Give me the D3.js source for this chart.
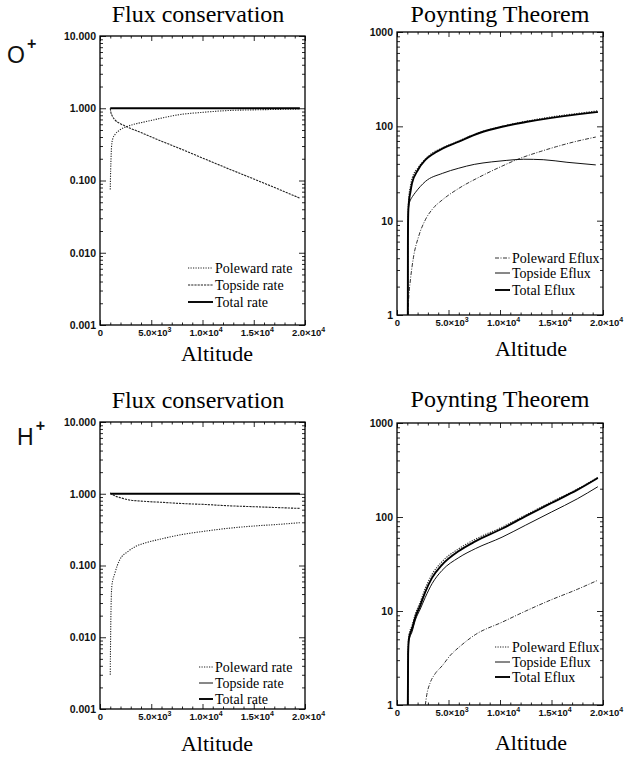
<!DOCTYPE html>
<html>
<head>
<meta charset="utf-8">
<script src="https://cdn.jsdelivr.net/npm/d3@7"></script>
<style>
	body { margin: 0; background: #fff; }
	svg { display: block; }
	.serif { font-family: "Liberation Serif", "Times New Roman", serif; fill: #000; }
	.tick text { font-family: "Liberation Sans", Arial, sans-serif; font-weight: bold; fill: #111; }
	.ion { font-family: "Liberation Sans", Arial, sans-serif; fill: #111; }
</style>
</head>
<body>
<div id="chart-area"></div>
<script>
// tick values / labels
let altTicks = [0, 5000, 10000, 15000, 20000];
let altTickMant = ["0", "5.0×10", "1.0×10", "1.5×10", "2.0×10"];
let altTickExp = ["", "3", "4", "4", "4"];
let rateTicks = [10, 1, 0.1, 0.01, 0.001];
let rateTickLabels = ["10.000", "1.000", "0.100", "0.010", "0.001"];
let efluxTicks = [1000, 100, 10, 1];
let efluxTickLabels = ["1000", "100", "10", "1"];

let rateLegend = ["Poleward rate", "Topside rate", "Total rate"];
let efluxLegend = ["Poleward Eflux", "Topside Eflux", "Total Eflux"];

// O+ flux conservation  [altitude, rate]
let oPolewardRate = [[1000,0.075],[1040,0.14],[1080,0.21],[1130,0.30],[1250,0.38],[1450,0.43],[1930,0.50],[2600,0.556],[3500,0.61],[4400,0.65],[6000,0.73],[7600,0.81],[10100,0.88],[12500,0.93],[15000,0.95],[17500,0.965],[19500,0.975]];
let oTopsideRate = [[1000,1.0],[1060,0.88],[1200,0.78],[1460,0.69],[2000,0.61],[2600,0.556],[4000,0.46],[6000,0.35],[7700,0.28],[10100,0.202],[12500,0.146],[15000,0.105],[17500,0.075],[19500,0.057]];
let oTotalRate = [[1000,1.0],[19500,1.0]];

// O+ Poynting theorem  [altitude, eflux]
let oPolewardEflux = [[1050,1],[1060,6],[1090,13],[1150,18],[1300,23],[1460,28],[2100,37],[2750,45],[3400,52],[4400,59],[6000,70],[8000,86],[10200,100],[12500,113],[15000,126],[17500,137],[19500,146]];
let oTotalEflux = [[1050,1],[1060,6],[1090,12],[1150,15.5],[1300,20],[1460,25],[2000,34],[2750,44],[3500,51],[4400,58],[6000,69],[8000,85],[10200,99],[12500,111],[15000,123],[17500,134],[19500,142]];
let oTopsideEflux = [[1050,1],[1060,6],[1090,12],[1150,14.5],[1300,16.5],[1500,18],[1800,20],[2750,26],[4400,31.7],[6000,36],[7500,39.5],[9200,42],[10600,43.5],[12300,44.8],[14200,44.3],[16500,41.6],[19300,39]];
let oLowerEflux = [[1050,1],[1150,1.6],[1300,2.35],[1600,4.1],[2100,6.8],[2750,10.2],[3500,13.5],[4400,16.6],[6000,22],[8000,29],[10000,37],[12000,46],[13900,54],[15500,61],[17100,68],[19300,77]];

// H+ flux conservation
let hPolewardRate = [[1000,0.003],[1020,0.006],[1050,0.015],[1080,0.027],[1150,0.051],[1450,0.078],[1930,0.12],[2740,0.157],[3500,0.185],[4350,0.205],[6000,0.235],[8000,0.27],[10150,0.30],[12500,0.33],[15000,0.355],[17500,0.375],[19500,0.395]];
let hTopsideRate = [[1000,1.03],[1200,0.98],[1500,0.93],[2000,0.88],[2740,0.825],[4000,0.79],[6000,0.76],[8000,0.73],[10150,0.71],[12500,0.68],[15000,0.66],[17500,0.64],[19500,0.625]];
let hTotalRate = [[1000,1.0],[19500,1.0]];

// H+ Poynting theorem
let hPolewardEflux = [[1050,1],[1080,4],[1150,5.5],[1460,7],[1780,9.3],[2260,12.5],[2750,17.5],[3400,24.5],[4370,33.5],[6000,46],[7600,58],[10200,78],[12500,105],[15000,145],[17500,198],[19500,264]];
let hTotalEflux = [[1050,1],[1080,3.5],[1150,5],[1460,6.5],[1780,8.6],[2260,11.5],[2750,16],[3400,22.5],[4370,31],[6000,43.5],[7600,55],[10200,75],[12500,102],[15000,141],[17500,194],[19500,260]];
let hTopsideEflux = [[1050,1],[1080,3.3],[1150,4.8],[1460,6],[1780,8],[2260,10.5],[2750,14],[3400,19.5],[4370,27],[6000,37],[7600,46],[10200,61],[12500,82],[15000,113],[17500,156],[19500,210]];
let hLowerEflux = [[2750,1],[2900,1.3],[3200,1.7],[3700,2.15],[4370,2.6],[5200,3.4],[6000,4.1],[7600,5.6],[10200,7.6],[12500,10],[15000,13.2],[17500,17],[19400,21]];

// line styles
let styles = {
	dot:   {w: 1.1, dash: "1.2,1.3", c: "#222"},
	dash:  {w: 1.1, dash: "2.2,1", c: "#222"},
	thin:  {w: 1.0, dash: null, c: "#111"},
	thick: {w: 1.9, dash: null, c: "#000"},
	dashdot: {w: 1.0, dash: "4,1.5,1,1.5", c: "#333"}
};

let svg = d3.select("#chart-area").append("svg")
	.attr("width", 626)
	.attr("height", 757);

let panels = [
	{left: 100, right: 305, top: 36, bottom: 325, domain: [0.001, 10], ticks: rateTicks, labels: rateTickLabels,
		title: "Flux conservation", tx: 198, ty: 22, ax: 217, ay: 361,
		series: [[oPolewardRate, "dot"], [oTopsideRate, "dash"], [oTotalRate, "thick"]],
		legend: rateLegend, legStyles: ["dot", "dash", "thick"], lx: [188, 213], ly: [268, 285, 302]},
	{left: 397, right: 603, top: 32, bottom: 315, domain: [1, 1000], ticks: efluxTicks, labels: efluxTickLabels,
		title: "Poynting Theorem", tx: 500, ty: 22, ax: 531, ay: 356,
		series: [[oLowerEflux, "dashdot"], [oTopsideEflux, "thin"], [oPolewardEflux, "dot"], [oTotalEflux, "thick"]],
		legend: efluxLegend, legStyles: ["dashdot", "thin", "thick"], lx: [495, 510], ly: [258, 273, 290]},
	{left: 100, right: 305, top: 422, bottom: 709, domain: [0.001, 10], ticks: rateTicks, labels: rateTickLabels,
		title: "Flux conservation", tx: 198, ty: 408, ax: 217, ay: 751,
		series: [[hPolewardRate, "dot"], [hTopsideRate, "dash"], [hTotalRate, "thick"]],
		legend: rateLegend, legStyles: ["dot", "thin", "thick"], lx: [199, 213], ly: [667, 683, 699]},
	{left: 397, right: 603, top: 423, bottom: 705, domain: [1, 1000], ticks: efluxTicks, labels: efluxTickLabels,
		title: "Poynting Theorem", tx: 500, ty: 407, ax: 531, ay: 750,
		series: [[hLowerEflux, "dashdot"], [hTopsideEflux, "thin"], [hPolewardEflux, "dot"], [hTotalEflux, "thick"]],
		legend: efluxLegend, legStyles: ["dot", "thin", "thick"], lx: [495, 510], ly: [647, 662, 677]}
];

panels.forEach(drawPanel);

// ion labels
function ionLabel(x, y, name) {
	let t = svg.append("text").attr("class", "ion")
		.attr("x", x).attr("y", y)
		.style("font-size", "23px")
		.text(name);
	t.append("tspan")
		.attr("dy", "-0.85em")
		.attr("dx", "2")
		.style("font-size", "16px")
		.style("font-weight", "bold")
		.text("+");
}
ionLabel(7, 63, "O");
ionLabel(17, 445, "H");

function drawPanel(p) {
	let g = svg.append("g");

	let x = d3.scaleLinear().domain([0, 20000]).range([p.left, p.right]);
	let y = d3.scaleLog().domain(p.domain).range([p.bottom, p.top]);

	let minorX = d3.range(0, 20001, 1000).filter(v => v % 5000 !== 0);
	let minorY = [];
	p.ticks.forEach(t => {
		for (let k = 2; k < 10; k++) {
			let v = t * k;
			if (v < p.domain[1]) minorY.push(v);
		}
	});

	// bottom
	let bottom = g.append("g")
		.attr("transform", "translate(0," + p.bottom + ")")
		.call(d3.axisBottom(x).tickValues(altTicks).tickSizeInner(-5).tickSizeOuter(0).tickPadding(4)
			.tickFormat(""));
	bottom.selectAll(".tick text")
		.attr("dx", (d, i) => i === 0 ? 0 : 3)
		.style("font-size", "9.5px")
		.each(function(d, i) {
			let t = d3.select(this);
			t.text(altTickMant[i]);
			if (altTickExp[i]) {
				t.append("tspan").attr("dy", "-0.5em").style("font-size", "7px").text(altTickExp[i]);
			}
		});
	g.append("g")
		.attr("transform", "translate(0," + p.bottom + ")")
		.call(d3.axisBottom(x).tickValues(minorX).tickSizeInner(-2.5).tickSizeOuter(0).tickFormat(""));

	// top
	g.append("g")
		.attr("transform", "translate(0," + p.top + ")")
		.call(d3.axisTop(x).tickValues(altTicks).tickSizeInner(-5).tickSizeOuter(0).tickFormat(""));
	g.append("g")
		.attr("transform", "translate(0," + p.top + ")")
		.call(d3.axisTop(x).tickValues(minorX).tickSizeInner(-2.5).tickSizeOuter(0).tickFormat(""));

	// left
	g.append("g")
		.attr("transform", "translate(" + p.left + ",0)")
		.call(d3.axisLeft(y).tickValues(p.ticks).tickSizeInner(-6).tickSizeOuter(0).tickPadding(4)
			.tickFormat((d, i) => p.labels[i]))
		.selectAll(".tick text").style("font-size", "10.5px");
	g.append("g")
		.attr("transform", "translate(" + p.left + ",0)")
		.call(d3.axisLeft(y).tickValues(minorY).tickSizeInner(-3).tickSizeOuter(0).tickFormat(""));

	// right
	g.append("g")
		.attr("transform", "translate(" + p.right + ",0)")
		.call(d3.axisRight(y).tickValues(p.ticks).tickSizeInner(-6).tickSizeOuter(0).tickFormat(""));
	g.append("g")
		.attr("transform", "translate(" + p.right + ",0)")
		.call(d3.axisRight(y).tickValues(minorY).tickSizeInner(-3).tickSizeOuter(0).tickFormat(""));

	g.selectAll(".domain").remove();
	g.selectAll(".tick line").attr("stroke", "#111").attr("stroke-width", 0.9);

	g.append("rect")
		.attr("x", p.left).attr("y", p.top)
		.attr("width", p.right - p.left).attr("height", p.bottom - p.top)
		.attr("fill", "none").attr("stroke", "#000").attr("stroke-width", 1.3);

	let line = d3.line()
		.x(d => x(d[0]))
		.y(d => y(d[1]))
		.curve(d3.curveMonotoneX);

	p.series.forEach(s => {
		let st = styles[s[1]];
		g.append("path")
			.datum(s[0])
			.attr("d", line)
			.attr("fill", "none")
			.attr("stroke", st.c)
			.attr("stroke-width", st.w)
			.attr("stroke-dasharray", st.dash);
	});

	// legend
	p.legend.forEach((name, i) => {
		let st = styles[p.legStyles[i]];
		g.append("line")
			.attr("x1", p.lx[0]).attr("x2", p.lx[1])
			.attr("y1", p.ly[i]).attr("y2", p.ly[i])
			.attr("stroke", st.c).attr("stroke-width", st.w)
			.attr("stroke-dasharray", st.dash);
		g.append("text").attr("class", "serif")
			.attr("x", p.lx[1] + 2).attr("y", p.ly[i]).attr("dy", "0.33em")
			.style("font-size", "14px")
			.text(name);
	});

	g.append("text").attr("class", "serif")
		.attr("x", p.tx).attr("y", p.ty)
		.attr("text-anchor", "middle")
		.style("font-size", "24px")
		.text(p.title);

	g.append("text").attr("class", "serif")
		.attr("x", p.ax).attr("y", p.ay)
		.attr("text-anchor", "middle")
		.style("font-size", "22px")
		.text("Altitude");
}
</script>
</body>
</html>
